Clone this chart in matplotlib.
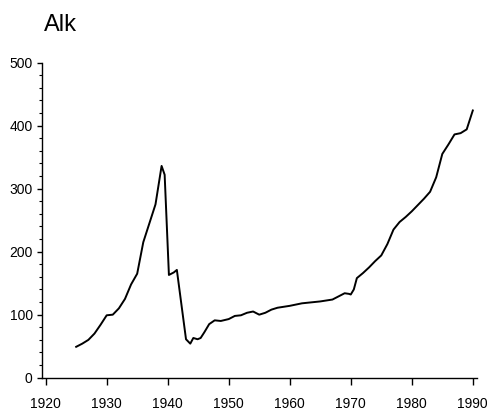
import matplotlib
matplotlib.use("Agg")
import matplotlib.pyplot as plt
from matplotlib.ticker import MultipleLocator

plt.rcParams['font.family'] = ['Liberation Sans', 'DejaVu Sans']

# Alk series, year vs value
years = [1925, 1926, 1927, 1928, 1929, 1930, 1931, 1932, 1933, 1934,
         1935, 1936, 1937, 1938, 1939, 1939.5, 1940.2, 1941, 1941.5, 1943,
         1943.7, 1944.2, 1944.9, 1945.4, 1946, 1946.8, 1947.7, 1948.7, 1950, 1951,
         1952, 1953, 1954, 1955, 1956, 1957, 1958, 1960, 1962, 1965,
         1967, 1968, 1969, 1969.7, 1970, 1970.5, 1971, 1972, 1973, 1974,
         1975, 1976, 1977, 1978, 1979, 1980, 1981, 1982, 1983, 1984,
         1985, 1986, 1987, 1988, 1989, 1990]
alk = [49, 54, 60, 70, 84, 99, 100, 110, 125, 148,
       165, 215, 245, 275, 336, 322, 163, 167, 171, 61,
       54, 63, 61, 63, 72, 85, 91, 90, 93, 98,
       99, 103, 105, 100, 103, 108, 111, 114, 118, 121,
       124, 129, 134, 133, 132, 140, 158, 166, 175, 185,
       194, 212, 235, 247, 255, 264, 274, 284, 295, 318,
       355, 370, 386, 388, 394, 424]

xticks = [1920, 1930, 1940, 1950, 1960, 1970, 1980, 1990]
yticks = [0, 100, 200, 300, 400, 500]

fig = plt.figure(figsize=(4.87, 4.13), dpi=100)
ax = fig.add_axes([0.0856, 0.0855, 0.8934, 0.763])

ax.plot(years, alk, color='black', linewidth=1.4)

ax.set_xlim(1919.35, 1990.65)
ax.set_ylim(0, 500)
ax.set_xticks(xticks)
ax.set_xticklabels([str(t) for t in xticks])
ax.set_yticks(yticks)
ax.set_yticklabels([str(t) for t in yticks])
ax.yaxis.set_minor_locator(MultipleLocator(20))

ax.spines['top'].set_visible(False)
ax.spines['right'].set_visible(False)
ax.spines['left'].set_linewidth(1.0)
ax.spines['bottom'].set_linewidth(1.0)

ax.tick_params(axis='x', direction='out', length=5, width=1.0, pad=9,
               labelsize=10)
ax.tick_params(axis='y', which='major', direction='out', length=3.5,
               width=1.0, pad=3, labelsize=10)
ax.tick_params(axis='y', which='minor', direction='out', length=2,
               width=0.8)

fig.text(0.09, 0.925, 'Alk', fontsize=17, ha='left', va='baseline')

fig.savefig('out.png', dpi=100)
